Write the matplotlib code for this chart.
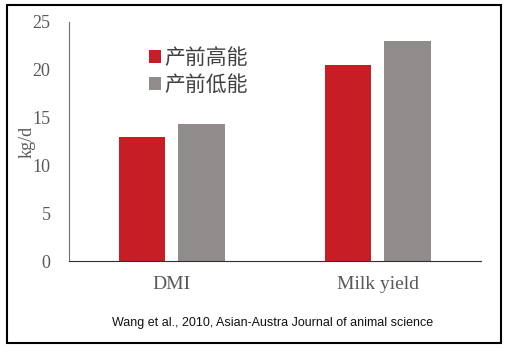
import matplotlib.pyplot as plt
import numpy as np
from matplotlib.patches import Rectangle

categories = ['DMI', 'Milk yield']
high_energy = [13.0, 20.5]
low_energy = [14.3, 23.0]
series_names = ['产前高能', '产前低能']
y_ticks = [0, 5, 10, 15, 20, 25]

red = '#C71D25'
gray = '#8F8C8B'

fig = plt.figure(figsize=(5.12, 3.57), dpi=100)
ax = fig.add_axes([0.1338, 0.2689, 0.8057, 0.6695])

x = np.arange(len(categories))
w = 0.226
off = 0.1445
ax.bar(x - off, high_energy, w, color=red, label=series_names[0])
ax.bar(x + off, low_energy, w, color=gray, label=series_names[1])

ax.set_xlim(-0.5, 1.5)
ax.set_ylim(0, 25)
ax.set_yticks(y_ticks)
ax.set_xticks(x)
ax.set_xticklabels(categories, family='Liberation Serif', fontsize=14, color='#595959')
ax.set_yticklabels([str(t) for t in y_ticks], family='Liberation Serif', fontsize=13, color='#595959')
ax.tick_params(axis='y', length=0, pad=13)
ax.tick_params(axis='x', length=0, pad=11)
ax.set_ylabel('kg/d', family='Liberation Serif', fontsize=13, color='#595959')
ax.yaxis.set_label_coords(-0.079, 0.5)

for s in ['top', 'right']:
    ax.spines[s].set_visible(False)
ax.spines['left'].set_color('#707070')
ax.spines['bottom'].set_color('#303030')

leg = ax.legend(loc='upper left', bbox_to_anchor=(0.15, 0.975), frameon=False,
                prop={'family': ['Noto Sans CJK SC', 'DejaVu Sans'], 'size': 15},
                handlelength=0.55, handleheight=0.55, handletextpad=0.2, labelspacing=0.25)
for t in leg.get_texts():
    t.set_color('#404040')

fig.text(0.533, 0.095, 'Wang et al., 2010, Asian-Austra Journal of animal science',
         family='Liberation Sans', fontsize=9, ha='center', va='center', color='#111111')

fig.patches.append(Rectangle((6.5 / 512, 1 - 343 / 357), (501 - 6.5) / 512, (343 - 5) / 357,
                             transform=fig.transFigure, fill=False, edgecolor='black', linewidth=1.5))

fig.savefig('out.png', dpi=100)
